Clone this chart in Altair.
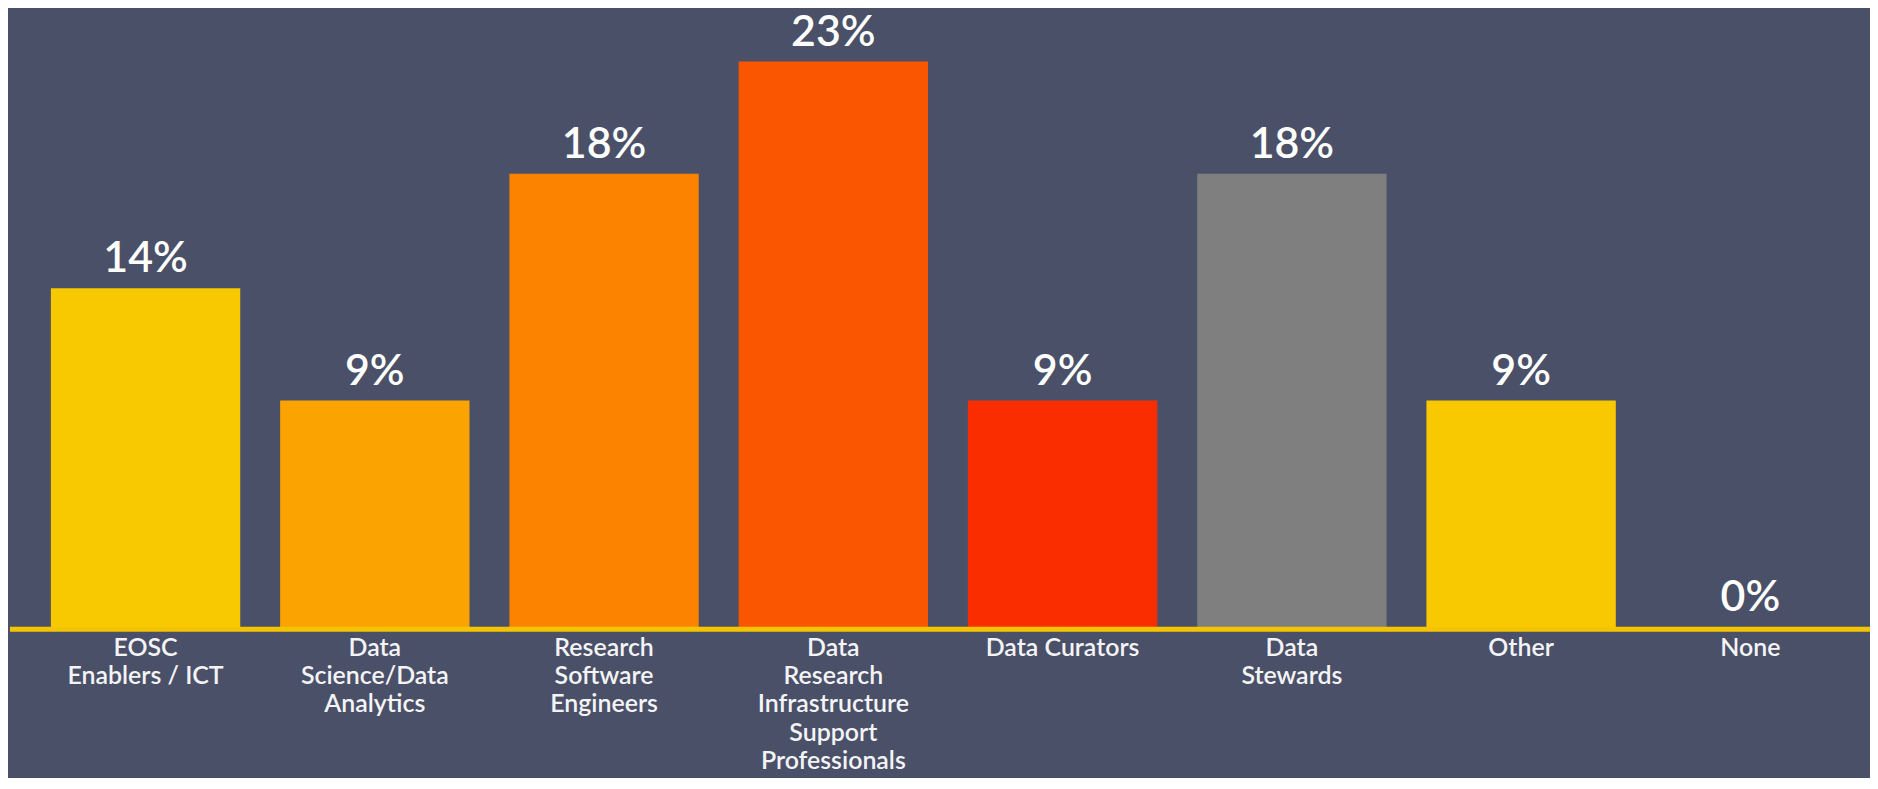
import altair as alt
import pandas as pd

categories = [
    "EOSC\nEnablers / ICT",
    "Data\nScience/Data\nAnalytics",
    "Research\nSoftware\nEngineers",
    "Data\nResearch\nInfrastructure\nSupport\nProfessionals",
    "Data Curators",
    "Data\nStewards",
    "Other",
    "None",
]
values = [13.6, 9.1, 18.2, 22.7, 9.1, 18.2, 9.1, 0.0]
colors = ["#F8C800", "#FBA300", "#FB8300", "#FA5500", "#FA2D00", "#7F7F7F", "#F8C800", "#F8C800"]

df = pd.DataFrame({"category": categories, "value": values, "color": colors})

BG = "#4A5068"
FONT = "Lato"
W, H = 1840, 614

x = alt.X(
    "category:N",
    sort=None,
    scale=alt.Scale(paddingInner=0.174, paddingOuter=0.087),
    axis=alt.Axis(
        title=None,
        labelAngle=0,
        labelColor="#F4F4F6",
        labelFont=FONT,
        labelFontSize=25,
        labelFontWeight=600,
        labelLineHeight=28.5,
        labelPadding=8,
        labelLimit=0,
        ticks=False,
        domain=False,
        grid=False,
        labelExpr="split(datum.value, '\\n')",
    ),
)
y = alt.Y("value:Q", scale=alt.Scale(domain=[0, 24.56]), axis=None)

base = alt.Chart(df)
bars = base.mark_bar().encode(x=x, y=y, color=alt.Color("color:N", scale=None))
texts = base.transform_calculate(
    label="format(datum.value / 100, '.0%')"
).mark_text(
    dy=-16, baseline="alphabetic", color="#FFFFFF", font=FONT, fontSize=43, fontWeight=600
).encode(x=x, y=y, text="label:N")

line = alt.Chart(pd.DataFrame({"a": [0]})).mark_rule(
    color="#F5C400", strokeWidth=5
).encode(x=alt.value(-21), x2=alt.value(1845), y=alt.value(616))

chart = (
    alt.layer(bars, line, texts)
    .properties(
        width=W,
        height=H,
        background=BG,
        autosize=alt.AutoSizeParams(type="none"),
        padding={"left": 23, "right": 5, "top": 6, "bottom": 150},
    )
    .configure_view(stroke=None)
)

chart.save("out.html", embed_options={"renderer": "svg", "actions": False})
